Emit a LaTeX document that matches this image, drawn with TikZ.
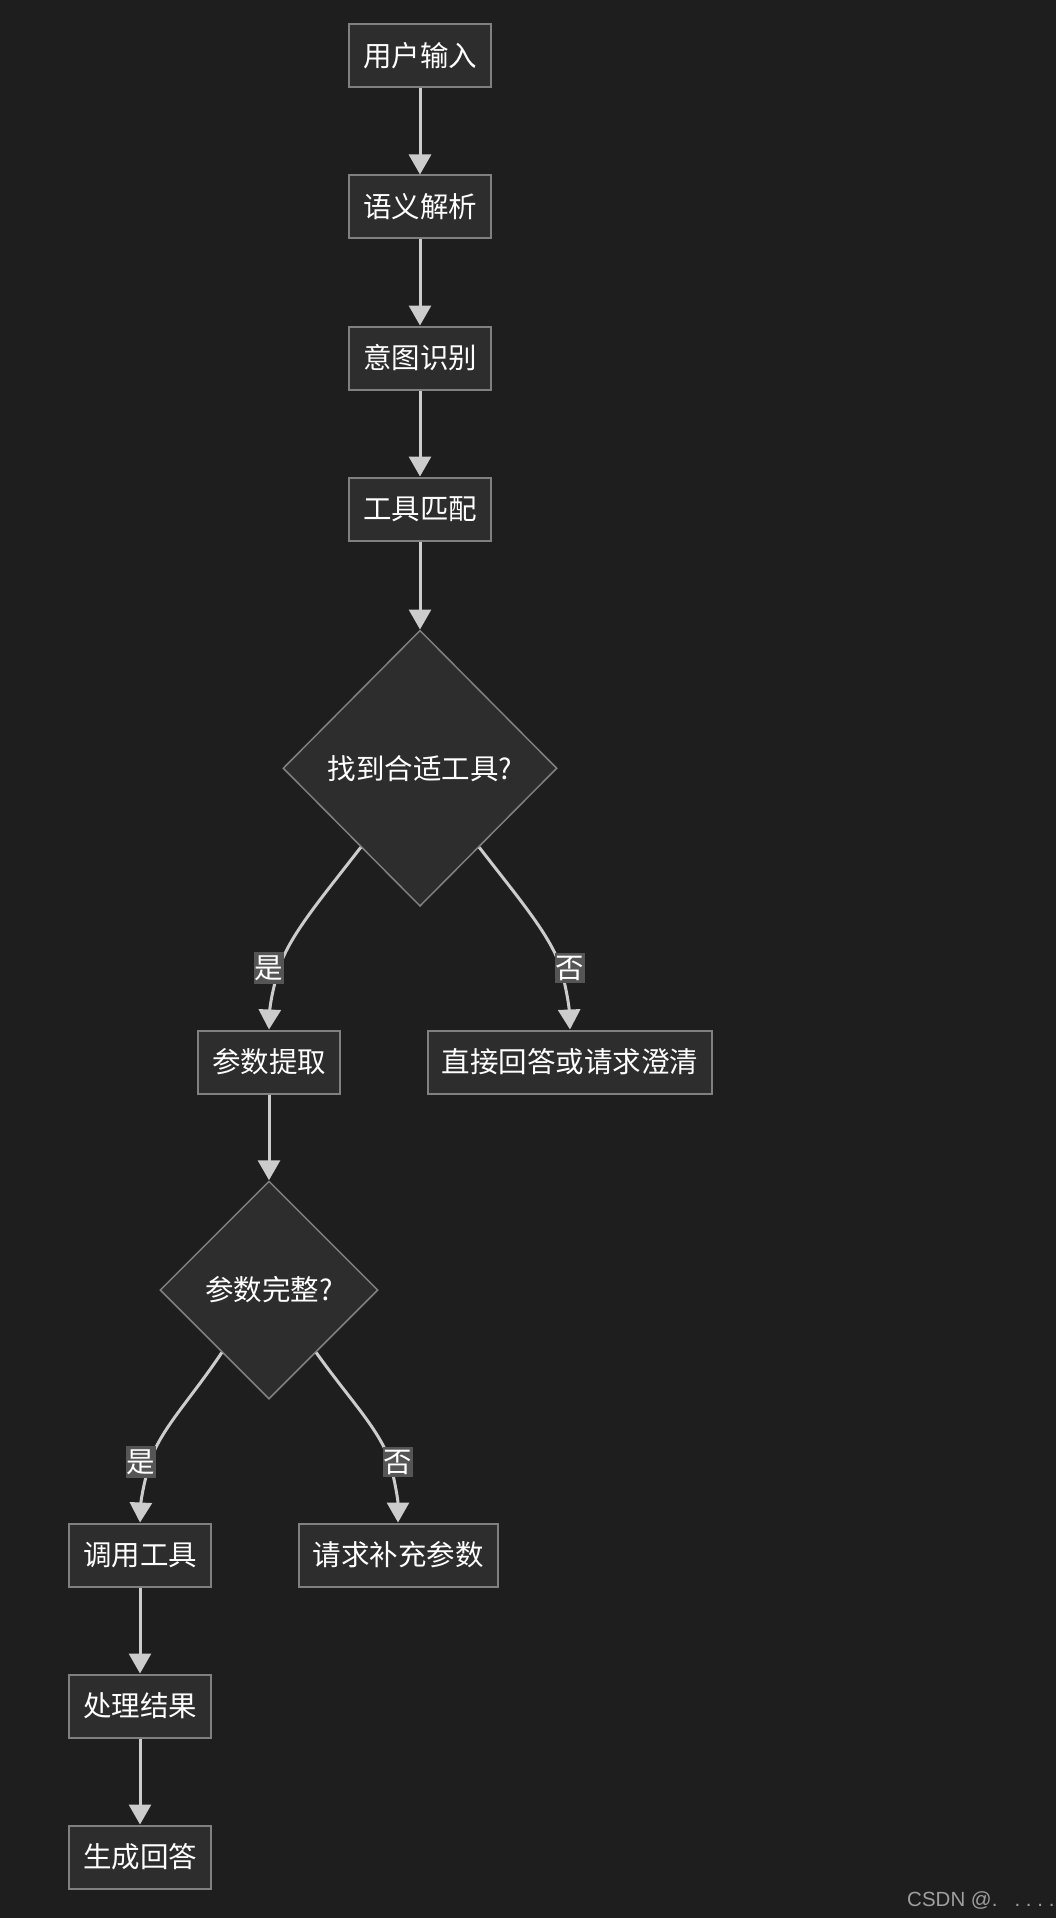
\documentclass[tikz,border=0pt]{standalone}
\usepackage{fontspec}
\setmainfont{Noto Sans CJK SC}
\newfontfamily\markfont{Liberation Sans}
\usepackage{xcolor}
\usetikzlibrary{arrows.meta, positioning, shapes.geometric, calc}

\definecolor{bgdark}{HTML}{1E1E1E}
\definecolor{boxfill}{HTML}{2D2D2D}
\definecolor{boxline}{HTML}{808080}
\definecolor{edgecol}{HTML}{CCCCCC}
\definecolor{lblfill}{HTML}{555555}

\begin{document}
\begin{tikzpicture}[
  x=1pt, y=1pt,
  node distance=86pt,
  every node/.style={font=\fontsize{28.5}{32}\selectfont, text=white, align=center},
  procbox/.style={draw=boxline, line width=2pt, fill=boxfill, minimum height=63pt, inner ysep=0pt, inner xsep=14pt},
  decide/.style={diamond, draw=boxline, line width=1.5pt, fill=boxfill, minimum width=274pt, minimum height=276pt, inner sep=0pt},
  flow/.style={draw=edgecol, line width=3pt, -{Triangle[length=20pt, width=22pt]}},
  lbl/.style={fill=lblfill, inner xsep=1pt, inner ysep=3pt}
]
\fill[bgdark] (0,0) rectangle (1056,-1918);
\useasboundingbox (0,0) rectangle (1056,-1918);

% Main column
\node[procbox] (input) at (420,-56) {用户输入};
\node[procbox, below=of input] (parse) {语义解析};
\node[procbox, below=of parse] (intent) {意图识别};
\node[procbox, below=of intent] (match) {工具匹配};
\node[decide, below=88pt of match] (found) {找到合适工具?};

\draw[flow] (input) -- (parse);
\draw[flow] (parse) -- (intent);
\draw[flow] (intent) -- (match);
\draw[flow] (match) -- (found);

% First branch
\node[procbox] (extract) at (269,-1062) {参数提取};
\node[procbox] (reply) at (570,-1062) {直接回答或请求澄清};

\coordinate (foundL) at ($(found.west)!0.57!(found.south)$);
\coordinate (foundR) at ($(found.east)!0.57!(found.south)$);
\draw[flow] (foundL) .. controls (320,-900) and (290,-935) .. (279,-968) node[lbl, xshift=-10pt] {是}
  .. controls (273,-988) and (270,-1005) .. (extract.north);
\draw[flow] (foundR) .. controls (520,-900) and (550,-935) .. (561,-968) node[lbl, xshift=9pt] {否}
  .. controls (566,-988) and (569,-1005) .. (reply.north);

\node[decide, minimum width=218pt, minimum height=218pt] (complete) at (269,-1290) {参数完整?};
\draw[flow] (extract) -- (complete);

% Second branch
\node[procbox] (call) at (140,-1555) {调用工具};
\node[procbox] (askmore) at (398,-1555) {请求补充参数};

\coordinate (completeL) at ($(complete.west)!0.57!(complete.south)$);
\coordinate (completeR) at ($(complete.east)!0.57!(complete.south)$);
\draw[flow] (completeL) .. controls (190,-1400) and (160,-1430) .. (150,-1462) node[lbl, xshift=-9pt] {是}
  .. controls (144,-1482) and (141,-1500) .. (call.north);
\draw[flow] (completeR) .. controls (350,-1400) and (380,-1430) .. (390,-1462) node[lbl, xshift=8pt] {否}
  .. controls (395,-1482) and (398,-1500) .. (askmore.north);

% Bottom column
\node[procbox, below=of call] (result) {处理结果};
\node[procbox, below=of result] (answer) {生成回答};

\draw[flow] (call) -- (result);
\draw[flow] (result) -- (answer);

\node[anchor=east, text=gray!75, font=\markfont\fontsize{20.5}{24}\selectfont] (mark) at (1058,-1900) {CSDN @.\ \ \ .\ .\ .\ .};
\end{tikzpicture}
\end{document}
